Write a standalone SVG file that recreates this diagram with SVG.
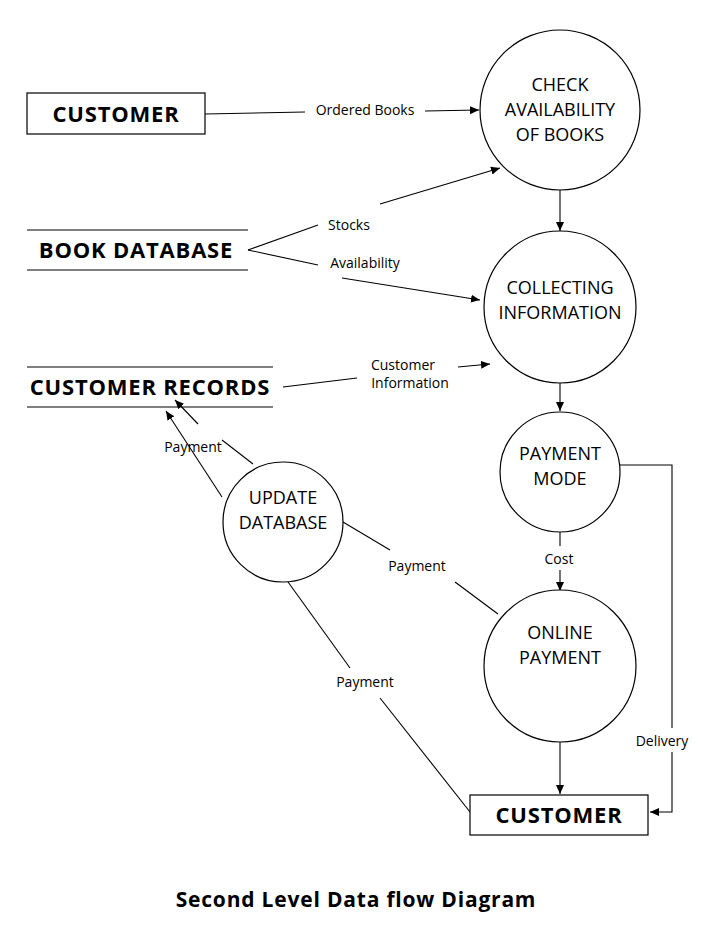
<svg xmlns="http://www.w3.org/2000/svg" width="719" height="951" viewBox="0 0 719 951">
<style>
text{font-family:"Open Sans","Liberation Sans",sans-serif;fill:#000;text-anchor:middle}
.b{font-weight:bold;font-size:22px;letter-spacing:0.8px}
.c{font-size:18px}
.l{font-size:14px}
.n{fill:#fff;stroke:#000;stroke-width:1.2}
.e{fill:none;stroke:#000;stroke-width:1.1}
</style>
<defs><marker id="a" markerWidth="10" markerHeight="10" refX="9" refY="5" orient="auto" markerUnits="userSpaceOnUse"><path d="M0,1 L9,5 L0,9 z" fill="#000"/></marker></defs>
<rect width="719" height="951" fill="#fff"/>
<g id="connectors">
<line class="e" x1="205" y1="114" x2="305" y2="112"/><line class="e" x1="425" y1="111" x2="479" y2="110" marker-end="url(#a)"/>
<path class="e" d="M248,250 L318,225"/><path class="e" d="M380,204 L500,168" marker-end="url(#a)"/>
<path class="e" d="M248,250 L318,265"/><path class="e" d="M342,278 L480,300" marker-end="url(#a)"/>
<line class="e" x1="560" y1="190" x2="560" y2="231" marker-end="url(#a)"/>
<line class="e" x1="283" y1="387" x2="357" y2="378"/><line class="e" x1="458" y1="367" x2="490" y2="364" marker-end="url(#a)"/>
<line class="e" x1="560" y1="383" x2="560" y2="411" marker-end="url(#a)"/>
<line class="e" x1="560" y1="532" x2="560" y2="546"/><line class="e" x1="560" y1="570" x2="560" y2="591" marker-end="url(#a)"/>
<polyline class="e" points="620,465 672,465 672,728"/><polyline class="e" points="672,752 672,812 650,812" marker-end="url(#a)"/>
<line class="e" x1="560" y1="742" x2="560" y2="794" marker-end="url(#a)"/>
<line class="e" x1="343" y1="522" x2="390" y2="550"/><line class="e" x1="455" y1="582" x2="498" y2="614"/>
<line class="e" x1="283" y1="575" x2="350" y2="668"/><line class="e" x1="380" y1="698" x2="470" y2="812"/>
<line class="e" x1="222" y1="497" x2="166" y2="411" marker-end="url(#a)"/>
<line class="e" x1="253" y1="464" x2="222" y2="440"/><line class="e" x1="198" y1="424" x2="175" y2="400" marker-end="url(#a)"/>
</g>
<text class="l" x="365" y="115">Ordered Books</text>
<text class="l" x="349" y="230">Stocks</text>
<text class="l" x="365" y="268">Availability</text>
<text class="l" x="403" y="370">Customer</text><text class="l" x="410" y="388">Information</text>
<text class="l" x="559" y="564">Cost</text>
<text class="l" x="662" y="746">Delivery</text>
<text class="l" x="417" y="571">Payment</text>
<text class="l" x="365" y="687">Payment</text>
<text class="l" x="193" y="452">Payment</text>
<g id="customer1"><rect class="n" x="27" y="93" width="178" height="41"/><text class="b" x="116" y="122">CUSTOMER</text></g>
<g id="bookdb"><line class="e" x1="27" y1="230" x2="248" y2="230"/><line class="e" x1="27" y1="270" x2="248" y2="270"/><text class="b" x="136" y="258">BOOK DATABASE</text></g>
<g id="custrec"><line class="e" x1="27" y1="367" x2="273" y2="367"/><line class="e" x1="27" y1="407" x2="273" y2="407"/><text class="b" x="150" y="395">CUSTOMER RECORDS</text></g>
<g id="check"><circle class="n" cx="560" cy="110" r="80"/><text class="c" x="560" y="91">CHECK</text><text class="c" x="560" y="116">AVAILABILITY</text><text class="c" x="560" y="141">OF BOOKS</text></g>
<g id="collect"><circle class="n" cx="560" cy="307" r="76"/><text class="c" x="560" y="294">COLLECTING</text><text class="c" x="560" y="319">INFORMATION</text></g>
<g id="paymode"><circle class="n" cx="560" cy="472" r="60"/><text class="c" x="560" y="460">PAYMENT</text><text class="c" x="560" y="485">MODE</text></g>
<g id="online"><circle class="n" cx="560" cy="666" r="76"/><text class="c" x="560" y="639">ONLINE</text><text class="c" x="560" y="664">PAYMENT</text></g>
<g id="update"><circle class="n" cx="283" cy="522" r="60"/><text class="c" x="283" y="504">UPDATE</text><text class="c" x="283" y="529">DATABASE</text></g>
<g id="customer2"><rect class="n" x="470" y="795" width="178" height="40"/><text class="b" x="559" y="823">CUSTOMER</text></g>
<text x="356" y="907" style="font-weight:bold;font-size:21px;letter-spacing:0.8px">Second Level Data flow Diagram</text>
</svg>
